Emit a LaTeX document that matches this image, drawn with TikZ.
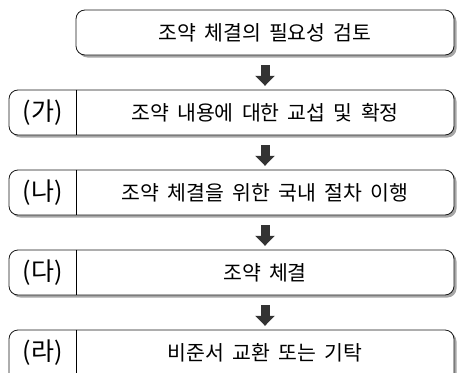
\documentclass[tikz,border=0pt]{standalone}
\usepackage{fontspec}
\setmainfont{Noto Sans CJK KR}[WordSpace=1.8]
\usetikzlibrary{arrows.meta,%
                shadows}
\definecolor{arrowgray}{HTML}{333333}
\tikzstyle{rowbox}=[rectangle, draw=black!90, line width=0.8pt, rounded corners=9pt, fill=white,
  drop shadow={shadow xshift=2.5pt, shadow yshift=-2.5pt, fill=black!35, opacity=1},
  minimum height=45pt, inner sep=0pt]
\tikzstyle{stepbox}=[rectangle, minimum width=378pt, minimum height=45pt, inner sep=0pt, font=\fontsize{20.5pt}{24pt}\selectfont]
\tikzstyle{tagbox}=[rectangle, minimum width=67pt, minimum height=45pt, inner sep=0pt, font=\fontsize{25pt}{28pt}\selectfont]
\tikzstyle{blockarrow}=[-{Triangle[width=19pt,length=10pt]}, line width=9pt, draw=arrowgray, shorten <=10pt, shorten >=4pt]

\begin{document}
\begin{tikzpicture}[x=1pt,y=-1pt]
  \clip (0,0) rectangle (457,372);
  \useasboundingbox (0,0) rectangle (457,372);
  % frames
  \node[rowbox, minimum width=378pt] (review) at (265,32.5) {};
  \node[rowbox, minimum width=445pt] (row1) at (231.5,112.5) {};
  \node[rowbox, minimum width=445pt] (row2) at (231.5,192.5) {};
  \node[rowbox, minimum width=445pt] (row3) at (231.5,272.5) {};
  \node[rowbox, minimum width=445pt, minimum height=56pt] (row4) at (231.5,358) {};

  \node[stepbox] (need) at (265,32.5) {조약 체결의 필요성 검토};
  \node[tagbox] (ga) at (42.5,112.5) {(가)};
  \node[stepbox] (nego) at (265,112.5) {조약 내용에 대한 교섭 및 확정};
  \node[tagbox] (na) at (42.5,192.5) {(나)};
  \node[stepbox] (proc) at (265,192.5) {조약 체결을 위한 국내 절차 이행};
  \node[tagbox] (da) at (42.5,272.5) {(다)};
  \node[stepbox] (sign) at (265,272.5) {조약 체결};
  \node[tagbox] (ra) at (42.5,352.5) {(라)};
  \node[stepbox] (ratify) at (265,352.5) {비준서 교환 또는 기탁};

  \draw[line width=0.8pt] (ga.north east) -- (ga.south east);
  \draw[line width=0.8pt] (na.north east) -- (na.south east);
  \draw[line width=0.8pt] (da.north east) -- (da.south east);
  \draw[line width=0.8pt] (ra.north east) -- ++(0,50);

  \draw[blockarrow] (need.south) -- (nego.north);
  \draw[blockarrow] (nego.south) -- (proc.north);
  \draw[blockarrow] (proc.south) -- (sign.north);
  \draw[blockarrow] (sign.south) -- (ratify.north);
\end{tikzpicture}
\end{document}
